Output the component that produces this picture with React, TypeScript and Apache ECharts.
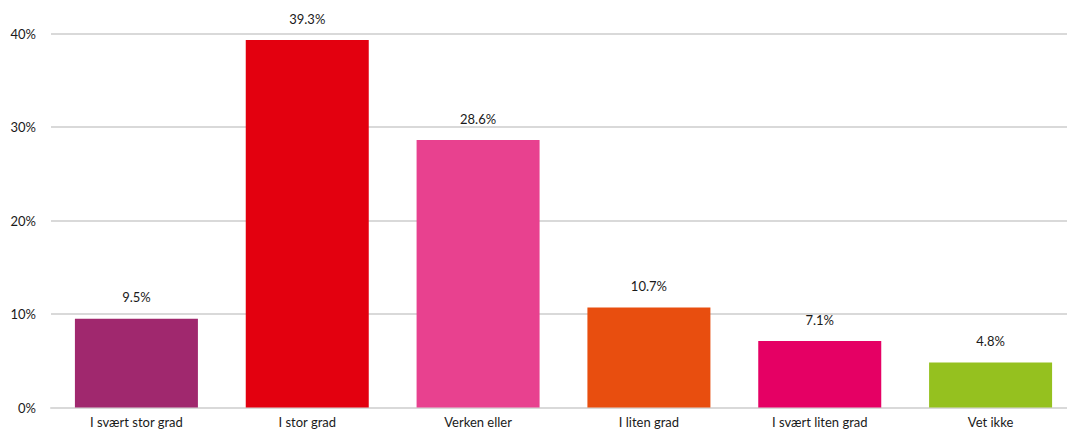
import React, { useEffect, useRef } from "react";
import * as echarts from "echarts";

const categories = ["I svært stor grad", "I stor grad", "Verken eller", "I liten grad", "I svært liten grad", "Vet ikke"];
const values = [9.5, 39.3, 28.6, 10.7, 7.1, 4.8];
const colors = ["#A0286E", "#E3000F", "#E8418F", "#E84E0F", "#E50064", "#95C11F"];
const yTicks = [0, 10, 20, 30, 40];

export default function App() {
  const ref = useRef<HTMLDivElement>(null);
  useEffect(() => {
    const chart = echarts.init(ref.current!, null, { renderer: "svg" });
    chart.setOption({
      animation: false,
      textStyle: { fontFamily: "Lato, 'Open Sans', sans-serif" },
      grid: { left: 51, top: 33.5, width: 1025, height: 374, containLabel: false },
      xAxis: {
        type: "category",
        data: categories,
        axisTick: { show: false },
        axisLine: { show: true, lineStyle: { color: "#d9d9d9", width: 2 } },
        axisLabel: { color: "#1a1a1a", fontSize: 13, margin: 8, interval: 0 },
      },
      yAxis: {
        type: "value",
        min: yTicks[0],
        max: yTicks[yTicks.length - 1],
        interval: 10,
        axisLine: { show: false },
        axisTick: { show: false },
        splitLine: { lineStyle: { color: "#d9d9d9", width: 2 } },
        axisLabel: { color: "#1a1a1a", fontSize: 13, margin: 15, formatter: (v: number) => v + "%" },
      },
      series: [
        {
          type: "bar",
          data: values.map((v, i) => ({ value: v, itemStyle: { color: colors[i] } })),
          barCategoryGap: "28%",
          label: {
            show: true,
            position: "top",
            distance: 15,
            color: "#1a1a1a",
            fontSize: 13,
            formatter: (p: any) => p.value.toFixed(1) + "%",
          },
        },
      ],
    });
    return () => chart.dispose();
  }, []);
  return (
    <div style={{ position: "fixed", left: 0, top: 0, width: 1067, height: 431, overflow: "hidden", background: "#fff" }}>
      <div ref={ref} style={{ width: 1090, height: 431 }} />
    </div>
  );
}
